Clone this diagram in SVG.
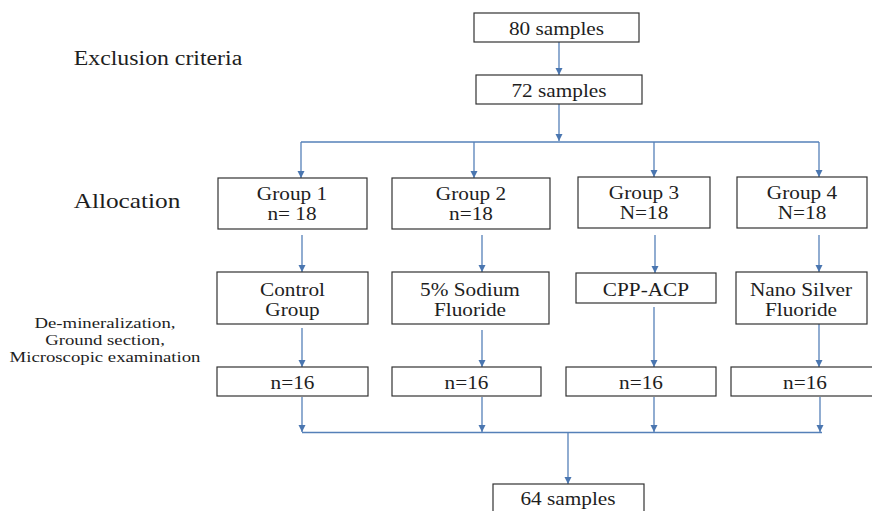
<svg xmlns="http://www.w3.org/2000/svg" width="872" height="511" viewBox="0 0 872 511">
<style>
.box{fill:#fff;stroke:#333;stroke-width:1.2}
.tx{font-family:'Liberation Serif','Times New Roman','DejaVu Serif',serif;fill:#1e1e1e;text-anchor:middle}
.t{font-size:18.5px}
.c{fill:none;stroke:#5580b8;stroke-width:1.3}
</style>
<defs>
<marker id="ah" markerUnits="userSpaceOnUse" markerWidth="8" markerHeight="8" refX="7" refY="4" orient="auto" viewBox="0 0 8 8">
<path d="M0,0.5 L7,4 L0,7.5 z" fill="#4a76b0"/>
</marker>
</defs>
<rect width="872" height="511" fill="#fff"/>
<g id="labels" class="tx" font-family="Liberation Serif, Times New Roman, serif">
<text transform="translate(158,65) scale(1.19,1)" font-size="20">Exclusion criteria</text>
<text transform="translate(127,208) scale(1.15,1)" font-size="22">Allocation</text>
<text transform="translate(105,328) scale(1.25,1)" font-size="15">De-mineralization,</text>
<text transform="translate(105,345) scale(1.25,1)" font-size="15">Ground section,</text>
<text transform="translate(105,362) scale(1.25,1)" font-size="15">Microscopic examination</text>
</g>
<g id="connectors">
<path class="c" d="M559,42 V75" marker-end="url(#ah)"/>
<path class="c" d="M559,104 V141" marker-end="url(#ah)"/>
<path class="c" d="M301,142 H819"/>
<path class="c" d="M301,142 V178" marker-end="url(#ah)"/>
<path class="c" d="M474,142 V178" marker-end="url(#ah)"/>
<path class="c" d="M654,142 V177" marker-end="url(#ah)"/>
<path class="c" d="M819,142 V177" marker-end="url(#ah)"/>
<path class="c" d="M302,235 V272" marker-end="url(#ah)"/>
<path class="c" d="M482,235 V272" marker-end="url(#ah)"/>
<path class="c" d="M655,235 V273" marker-end="url(#ah)"/>
<path class="c" d="M819,235 V272" marker-end="url(#ah)"/>
<path class="c" d="M302,328 V367" marker-end="url(#ah)"/>
<path class="c" d="M482,330 V367" marker-end="url(#ah)"/>
<path class="c" d="M654,307 V367" marker-end="url(#ah)"/>
<path class="c" d="M819,324 V367" marker-end="url(#ah)"/>
<path class="c" d="M302,397 V432" marker-end="url(#ah)"/>
<path class="c" d="M482,397 V432" marker-end="url(#ah)"/>
<path class="c" d="M654,397 V432" marker-end="url(#ah)"/>
<path class="c" d="M820,397 V432" marker-end="url(#ah)"/>
<path class="c" d="M302,432.5 H822"/>
<path class="c" d="M568,432.5 V484" marker-end="url(#ah)"/>
</g>
<g class="tx" font-family="Liberation Serif, Times New Roman, serif">
<g id="n80"><rect class="box" x="474" y="13" width="165" height="29"/><text class="t" transform="translate(556.5,35) scale(1.15,1)">80 samples</text></g>
<g id="n72"><rect class="box" x="476" y="75" width="166" height="29"/><text class="t" transform="translate(559,97) scale(1.15,1)">72 samples</text></g>
<g id="g1"><rect class="box" x="218" y="178" width="149" height="51"/><text class="t" transform="translate(292,200) scale(1.15,1)">Group 1</text><text class="t" transform="translate(292,220) scale(1.15,1)">n= 18</text></g>
<g id="g2"><rect class="box" x="392" y="178" width="158" height="51"/><text class="t" transform="translate(471,200) scale(1.15,1)">Group 2</text><text class="t" transform="translate(471,220) scale(1.15,1)">n=18</text></g>
<g id="g3"><rect class="box" x="578" y="177" width="132" height="51"/><text class="t" transform="translate(644,199) scale(1.15,1)">Group 3</text><text class="t" transform="translate(644,219) scale(1.15,1)">N=18</text></g>
<g id="g4"><rect class="box" x="737" y="177" width="130" height="51"/><text class="t" transform="translate(802,199) scale(1.15,1)">Group 4</text><text class="t" transform="translate(802,219) scale(1.15,1)">N=18</text></g>
<g id="control"><rect class="box" x="217" y="272" width="151" height="52"/><text class="t" transform="translate(292.5,296) scale(1.15,1)">Control</text><text class="t" transform="translate(292.5,316) scale(1.15,1)">Group</text></g>
<g id="naf"><rect class="box" x="392" y="272" width="157" height="52"/><text class="t" transform="translate(470,296) scale(1.15,1)">5% Sodium</text><text class="t" transform="translate(470,316) scale(1.15,1)">Fluoride</text></g>
<g id="cpp"><rect class="box" x="576" y="273" width="140" height="30"/><text class="t" transform="translate(646,296) scale(1.15,1)">CPP-ACP</text></g>
<g id="nsf"><rect class="box" x="736" y="272" width="131" height="52"/><text class="t" transform="translate(801,296) scale(1.15,1)">Nano Silver</text><text class="t" transform="translate(801,316) scale(1.15,1)">Fluoride</text></g>
<g id="r1"><rect class="box" x="217" y="367" width="151" height="29"/><text class="t" transform="translate(292.5,389) scale(1.15,1)">n=16</text></g>
<g id="r2"><rect class="box" x="392" y="367" width="149" height="29"/><text class="t" transform="translate(466.5,389) scale(1.15,1)">n=16</text></g>
<g id="r3"><rect class="box" x="566" y="367" width="150" height="29"/><text class="t" transform="translate(641,389) scale(1.15,1)">n=16</text></g>
<g id="r4"><rect class="box" x="731" y="367" width="150" height="29"/><text class="t" transform="translate(805,389) scale(1.15,1)">n=16</text></g>
<g id="n64"><rect class="box" x="493" y="484" width="151" height="32"/><text class="t" transform="translate(568,505) scale(1.15,1)">64 samples</text></g>
</g>
</svg>
